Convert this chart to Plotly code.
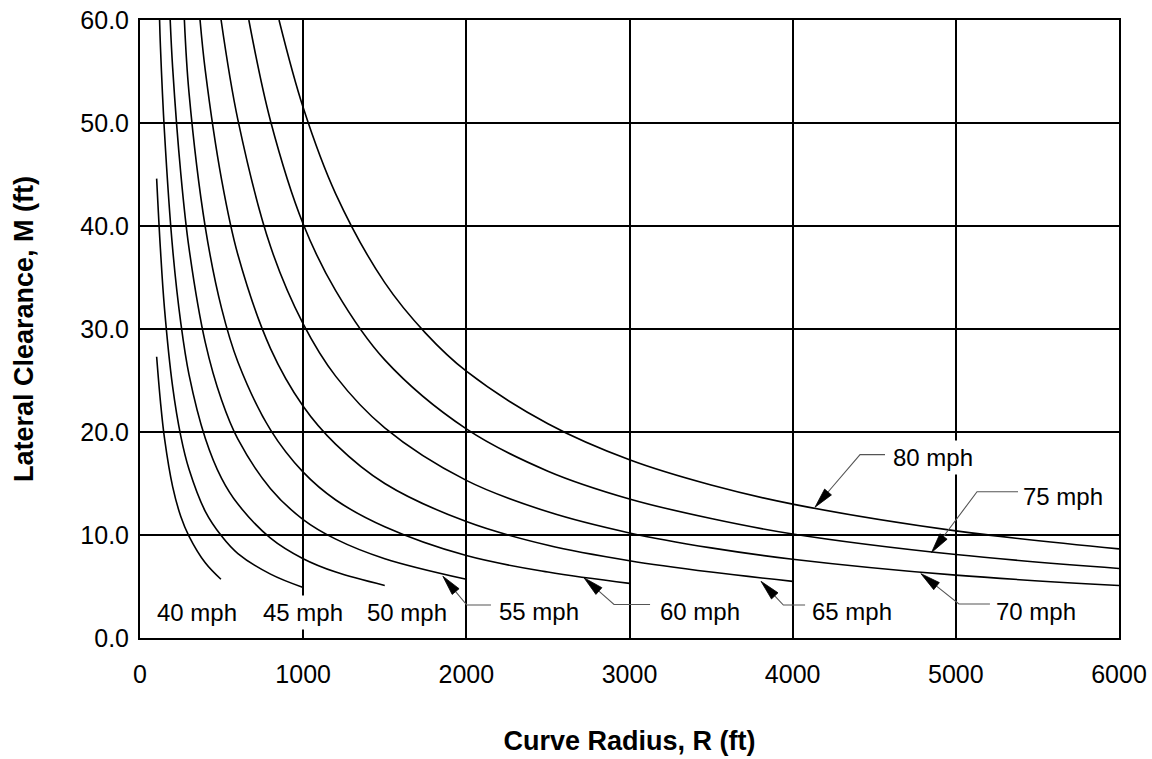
import plotly.graph_objects as go

# ---------------- data ----------------
speeds = ["40 mph", "45 mph", "50 mph", "55 mph", "60 mph",
          "65 mph", "70 mph", "75 mph", "80 mph"]

r40 = [102, 125, 150, 200, 250, 300, 400, 496]
m40 = [27.3, 23.0, 19.4, 14.7, 11.8, 9.9, 7.3, 5.7]

r45 = [102, 125, 150, 200, 250, 300, 400, 500, 600, 800, 1000]
m45 = [44.6, 37.8, 32.0, 24.4, 19.6, 16.4, 12.3, 9.9, 8.2, 6.2, 4.9]

r50 = [120, 125, 150, 200, 250, 300, 400, 500, 600, 800, 1000, 1200, 1500]
m50 = [60.0, 57.5, 49.1, 37.8, 30.6, 25.6, 19.4, 15.5, 13.0, 9.7, 7.7, 6.4, 5.1]

r55 = [185, 200, 250, 300, 400, 500, 600, 800, 1000, 1200, 1500, 2000]
m55 = [60.0, 55.4, 45.1, 37.9, 28.7, 23.1, 19.3, 14.5, 11.5, 9.6, 7.7, 5.7]

r60 = [272, 300, 400, 500, 600, 800, 1000, 1200, 1500, 2000, 2500, 3000]
m60 = [60.0, 53.0, 39.9, 32.0, 26.8, 20.2, 16.1, 13.4, 10.8, 8.0, 6.4, 5.3]

r65 = [368, 400, 500, 600, 800, 1000, 1200, 1500, 2000, 2500, 3000, 3500, 4000]
m65 = [60.0, 55.1, 44.5, 37.2, 28.1, 22.5, 18.8, 15.0, 11.3, 9.0, 7.5, 6.4, 5.5]

r70 = [497, 600, 800, 1000, 1200, 1500, 2000, 2500, 3000, 3500, 4000, 5000, 6000]
m70 = [60.0, 50.3, 38.0, 30.5, 25.4, 20.4, 15.3, 12.25, 10.2, 8.75, 7.65, 6.1, 5.1]

r75 = [667, 800, 1000, 1200, 1500, 2000, 2500, 3000, 3500, 4000, 5000, 6000]
m75 = [60.0, 50.2, 40.2, 33.7, 27.0, 20.3, 16.2, 13.5, 11.6, 10.1, 8.1, 6.75]

r80 = [852, 1000, 1200, 1500, 1750, 2000, 2500, 3000, 3500, 4000, 5000, 6000]
m80 = [60.0, 51.5, 43.1, 34.5, 29.6, 25.9, 20.8, 17.3, 14.85, 13.0, 10.4, 8.65]

x_ticks = [0, 1000, 2000, 3000, 4000, 5000, 6000]
y_ticks = [0, 10, 20, 30, 40, 50, 60]

# plain labels (no leader): text, x centre, y centre
plain_text = ["40 mph", "45 mph", "50 mph"]
plain_x = [349, 997, 1636]
plain_y = [2.5, 2.5, 2.5]

# labels with leaders: text, text-left x, text y, leader end x, bend (x, y), arrow tip (x, y)
lead_text = ["55 mph", "60 mph", "65 mph", "70 mph", "75 mph", "80 mph"]
lead_tx = [2175, 3160, 4092, 5222, 5390, 4590]
lead_ty = [2.6, 2.6, 2.6, 2.6, 13.7, 17.5]
lead_end_x = [2151, 3126, 4076, 5209, 5381, 4566]
bend_x = [2003, 2905, 3943, 5019, 5130, 4413]
bend_y = [3.2, 3.25, 3.2, 3.3, 14.2, 17.8]
tip_x = [1856, 2721, 3806, 4786, 4851, 4137]
tip_y = [6.0, 5.85, 5.5, 6.25, 8.3, 12.7]

# ---------------- figure ----------------
X_MAX, Y_MAX = 6000, 60
ML, MR, MT, MB = 140, 33, 20, 121
W, H = 1152, 759
PW, PH = W - ML - MR, H - MT - MB
UX, UY = X_MAX / PW, Y_MAX / PH  # data units per pixel

FONT = "Liberation Sans, Arial, Helvetica, sans-serif"

fig = go.Figure()

curves = [(r40, m40), (r45, m45), (r50, m50), (r55, m55), (r60, m60),
          (r65, m65), (r70, m70), (r75, m75), (r80, m80)]
for name, (rx, my) in zip(speeds, curves):
    fig.add_trace(go.Scatter(
        x=rx, y=my, mode="lines", name=name,
        line=dict(color="black", width=1.6, shape="spline", smoothing=1.0),
        hoverinfo="skip", showlegend=False))

# leaders and arrowheads
HEAD_L, HEAD_W = 20.0, 9.0
for i in range(len(lead_text)):
    tx, ty = tip_x[i], tip_y[i]
    bx, by = bend_x[i], bend_y[i]
    dxp = (bx - tx) / UX
    dyp = (by - ty) / UY
    ln = (dxp ** 2 + dyp ** 2) ** 0.5
    ux, uy = dxp / ln, dyp / ln
    cx, cy = HEAD_L * ux, HEAD_L * uy
    nx, ny = -uy, ux
    base_x = tx + cx * UX
    base_y = ty + cy * UY
    c1 = (tx + (cx + nx * HEAD_W / 2) * UX, ty + (cy + ny * HEAD_W / 2) * UY)
    c2 = (tx + (cx - nx * HEAD_W / 2) * UX, ty + (cy - ny * HEAD_W / 2) * UY)
    fig.add_trace(go.Scatter(
        x=[lead_end_x[i], bx, base_x], y=[by, by, base_y], mode="lines",
        line=dict(color="#555555", width=1.1), hoverinfo="skip", showlegend=False))
    fig.add_trace(go.Scatter(
        x=[tx, c1[0], c2[0], tx], y=[ty, c1[1], c2[1], ty], mode="lines",
        fill="toself", fillcolor="black", line=dict(color="black", width=0.8),
        hoverinfo="skip", showlegend=False))

annotations = []
for t, x, y in zip(plain_text, plain_x, plain_y):
    annotations.append(dict(x=x, y=y, xref="x", yref="y", text=t, showarrow=False,
                            xanchor="center", yanchor="middle", bgcolor="white",
                            borderpad=3, font=dict(family=FONT, size=24, color="black")))
for t, x, y in zip(lead_text, lead_tx, lead_ty):
    annotations.append(dict(x=x, y=y, xref="x", yref="y", text=t, showarrow=False,
                            xanchor="left", yanchor="middle", bgcolor="white",
                            borderpad=3, font=dict(family=FONT, size=24, color="black")))

axis_common = dict(showline=True, mirror=True, linecolor="black", linewidth=2,
                   showgrid=True, gridcolor="black", gridwidth=1.5, zeroline=False,
                   automargin=False,
                   ticks="", tickfont=dict(family=FONT, size=25, color="black"))

fig.update_layout(
    width=W, height=H,
    margin=dict(l=ML, r=MR, t=MT, b=MB, pad=0, autoexpand=False),
    paper_bgcolor="white", plot_bgcolor="white",
    font=dict(family=FONT, color="black"),
    showlegend=False,
    annotations=annotations,
    xaxis=dict(range=[0, X_MAX], tickvals=x_ticks, ticktext=[str(v) for v in x_ticks],
               ticklabelstandoff=13,
               title=dict(text="<b>Curve Radius, R (ft)</b>", standoff=44,
                          font=dict(family=FONT, size=27, color="black")),
               **axis_common),
    yaxis=dict(range=[0, Y_MAX], tickvals=y_ticks, ticktext=[f"{v:.1f}" for v in y_ticks],
               ticklabelstandoff=4,
               title=dict(text="<b>Lateral Clearance, M (ft)</b>", standoff=39,
                          font=dict(family=FONT, size=27, color="black")),
               **axis_common),
)

fig.write_html("out.html", config={"displayModeBar": False},
               post_script="document.body.style.margin='0';")
